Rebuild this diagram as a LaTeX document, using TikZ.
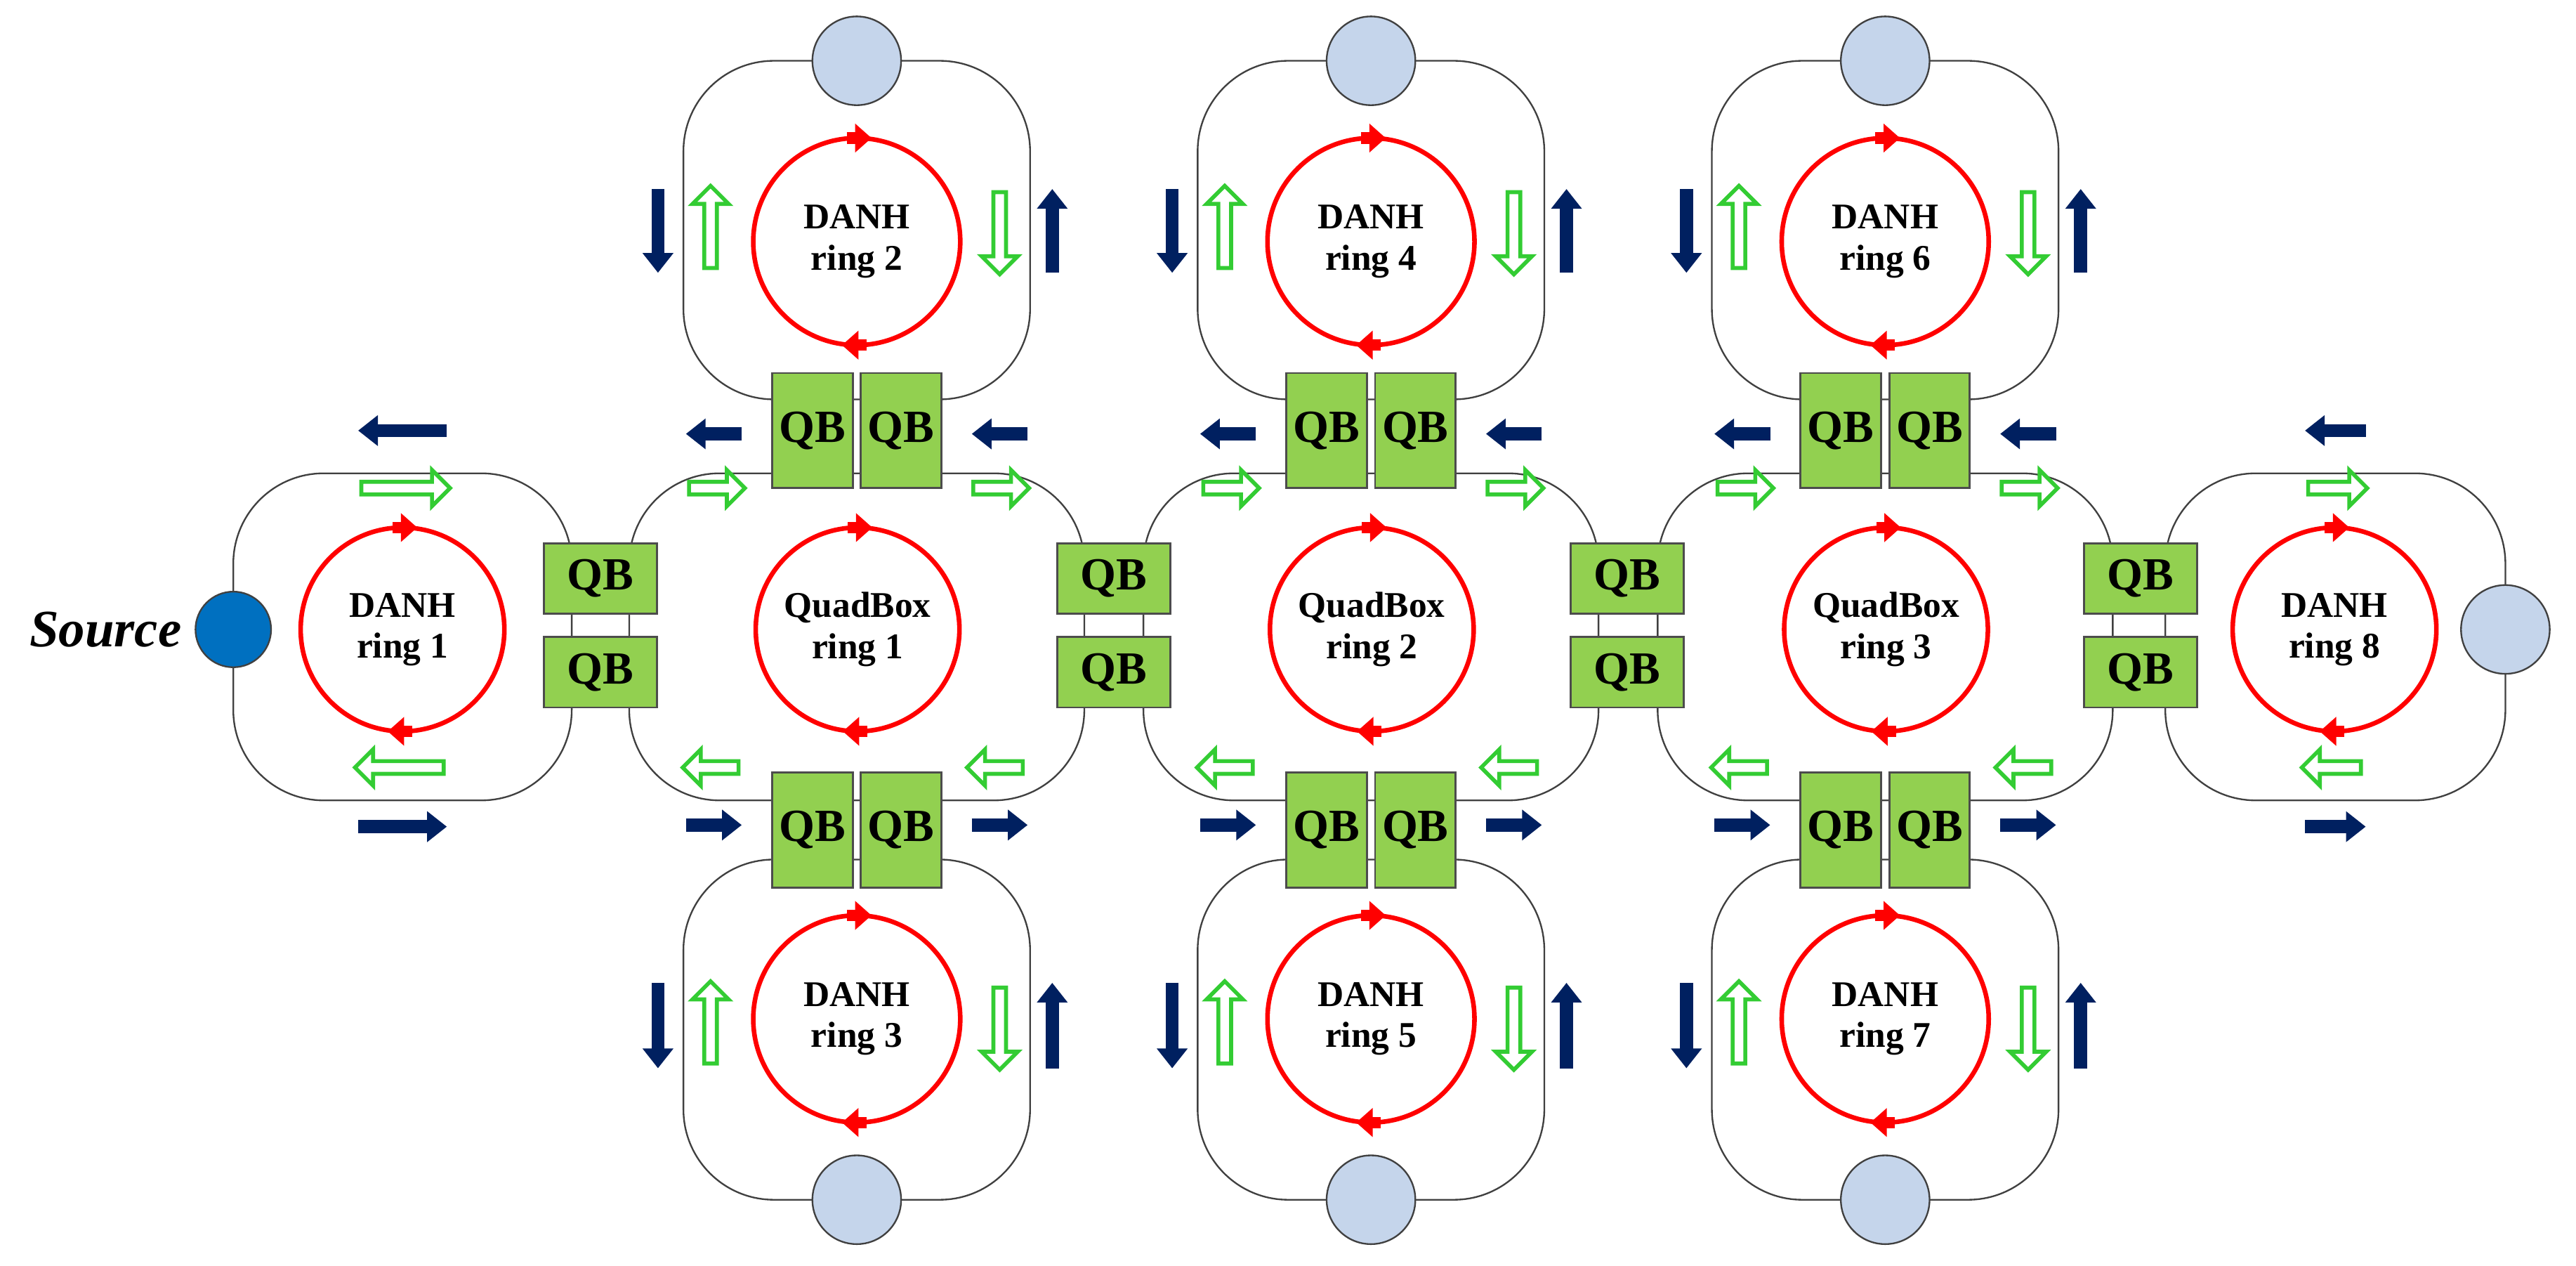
\documentclass[tikz,border=0pt]{standalone}
\usepackage{fontspec}
\setmainfont{Liberation Serif}
\usetikzlibrary{shapes.arrows,arrows.meta}
\definecolor{navy}{RGB}{0,32,96}
\definecolor{gr}{RGB}{51,204,51}
\definecolor{qbg}{RGB}{146,208,80}
\definecolor{lb}{RGB}{197,213,235}
\definecolor{src}{RGB}{0,112,192}
\tikzset{
 box/.style={draw=black!75,line width=1pt,rounded corners=55pt},
 qb/.style={draw=black!70,fill=qbg,line width=1.2pt,minimum width=49pt,minimum height=43pt,inner sep=0pt,font=\fontsize{28}{28}\selectfont\bfseries},
 qbv/.style={qb,minimum width=49pt,minimum height=70pt},
 qbh/.style={qb,minimum width=69pt,minimum height=43pt},
 ring/.style={draw=red,line width=2.8pt},
 rt/.style={font=\fontsize{22}{25}\selectfont\bfseries,align=center},
 ra/.style={red,line width=7pt,-{Triangle[width=17pt,length=10pt]}},
 na/.style={navy,line width=8pt,-{Triangle[width=18pt,length=12pt]}},
 ga/.style={single arrow,draw=gr,line width=2.4pt,fill=white,minimum height=50pt,minimum width=22pt,single arrow head extend=5pt,single arrow tip angle=90,inner sep=1.5pt},
 port/.style={circle,draw=black!75,fill=lb,line width=1pt,minimum size=54pt,inner sep=0pt},
}
\begin{document}
\begin{tikzpicture}[x=1pt,y=-1pt]
\useasboundingbox (0,0) rectangle (1568,770);
% center row boxes
\draw[box] (142,288) rectangle (348,487);
\foreach \k in {0,1,2}{
  \draw[box] ({383+313*\k},288) rectangle ({660+313*\k},487);
}
\draw[box] (1318,288) rectangle (1525,487);
% top and bottom ring boxes
\foreach \k in {0,1,2}{
  \draw[box] ({416+313*\k},37) rectangle ({627+313*\k},243);
  \draw[box] ({416+313*\k},523) rectangle ({627+313*\k},730);
}
% ports
\node[circle,draw=black!75,fill=src,line width=1pt,minimum size=46pt,inner sep=0pt] (source) at (142,383) {};
\node[anchor=east,font=\fontsize{32}{32}\selectfont\bfseries\itshape] (srclabel) at (114,383) {Source};
\node[port] (p8) at (1525,383) {};
\foreach \k/\a/\b in {0/2/3,1/4/5,2/6/7}{
  \node[port] (pt\a) at ({521.5+313*\k},37) {};
  \node[port] (pb\b) at ({521.5+313*\k},730) {};
}
% center rings
\draw[ring] (245,383) circle (62);
\node[rt] (t1) at (245,383) {DANH\\ring 1};
\draw[ra] (239,321) -- (254,321); \draw[ra] (251,445) -- (236,445);
\foreach \k/\n in {0/1,1/2,2/3}{
  \draw[ring] ({522+313*\k},383) circle (62);
  \node[rt] (q\n) at ({522+313*\k},383) {QuadBox\\ring \n};
  \draw[ra] ({516+313*\k},321) -- ({531+313*\k},321);
  \draw[ra] ({528+313*\k},445) -- ({513+313*\k},445);
}
\draw[ring] (1421,383) circle (62);
\node[rt] (t8) at (1421,383) {DANH\\ring 8};
\draw[ra] (1415,321) -- (1430,321); \draw[ra] (1427,445) -- (1412,445);
% top/bottom rings
\foreach \k/\a/\b in {0/2/3,1/4/5,2/6/7}{
  \pgfmathsetmacro{\cx}{521.5+313*\k}
  \draw[ring] (\cx,147) circle (63);
  \node[rt] (t\a) at (\cx,147) {DANH\\ring \a};
  \draw[ra] (\cx-6,84) -- (\cx+9,84); \draw[ra] (\cx+6,210) -- (\cx-9,210);
  \draw[ring] (\cx,620) circle (63);
  \node[rt] (t\b) at (\cx,620) {DANH\\ring \b};
  \draw[ra] (\cx-6,557) -- (\cx+9,557); \draw[ra] (\cx+6,683) -- (\cx-9,683);
  % vertical arrows
  \draw[na] (\cx-121,115) -- (\cx-121,166);
  \node[ga,rotate=90] (gu\a) at (\cx-89,140) {};
  \node[ga,rotate=-90] (gd\a) at (\cx+87,140) {};
  \draw[na] (\cx+119,166) -- (\cx+119,115);
  \draw[na] (\cx-121,598) -- (\cx-121,650);
  \node[ga,rotate=90] (gu\b) at (\cx-89,624) {};
  \node[ga,rotate=-90] (gd\b) at (\cx+87,624) {};
  \draw[na] (\cx+119,650) -- (\cx+119,598);
  % QB pairs
  \node[qbv] (qt\a l) at (\cx-27,262) {QB};
  \node[qbv] (qt\a r) at (\cx+27,262) {QB};
  \node[qbv] (qb\b l) at (\cx-27,505) {QB};
  \node[qbv] (qb\b r) at (\cx+27,505) {QB};
  % horizontal arrows around quadbox rings
  \draw[na] (\cx-70,264) -- (\cx-104,264);
  \draw[na] (\cx+104,264) -- (\cx+70,264);
  \draw[na] (\cx-104,502) -- (\cx-70,502);
  \draw[na] (\cx+70,502) -- (\cx+104,502);
  \node[ga,minimum height=34pt] (gtl\k) at (\cx-87,297) {};
  \node[ga,minimum height=34pt] (gtr\k) at (\cx+86,297) {};
  \node[ga,minimum height=34pt,rotate=180] (gbl\k) at (\cx-87,467) {};
  \node[ga,minimum height=34pt,rotate=180] (gbr\k) at (\cx+86,467) {};
}
% DANH 1 and 8 horizontal arrows
\draw[na] (272,262) -- (218,262);
\draw[na] (218,503) -- (272,503);
\node[ga,minimum height=54pt] (g1t) at (245,297) {};
\node[ga,minimum height=54pt,rotate=180] (g1b) at (245,467) {};
\draw[na] (1440,262) -- (1403,262);
\draw[na] (1403,503) -- (1440,503);
\node[ga,minimum height=36pt] (g8t) at (1421,297) {};
\node[ga,minimum height=36pt,rotate=180] (g8b) at (1421,467) {};
% side QB pairs
\foreach \k in {0,1,2,3}{
  \node[qbh] (qs\k a) at ({365.5+312.5*\k},352) {QB};
  \node[qbh] (qs\k b) at ({365.5+312.5*\k},409) {QB};
}
\end{tikzpicture}
\end{document}
